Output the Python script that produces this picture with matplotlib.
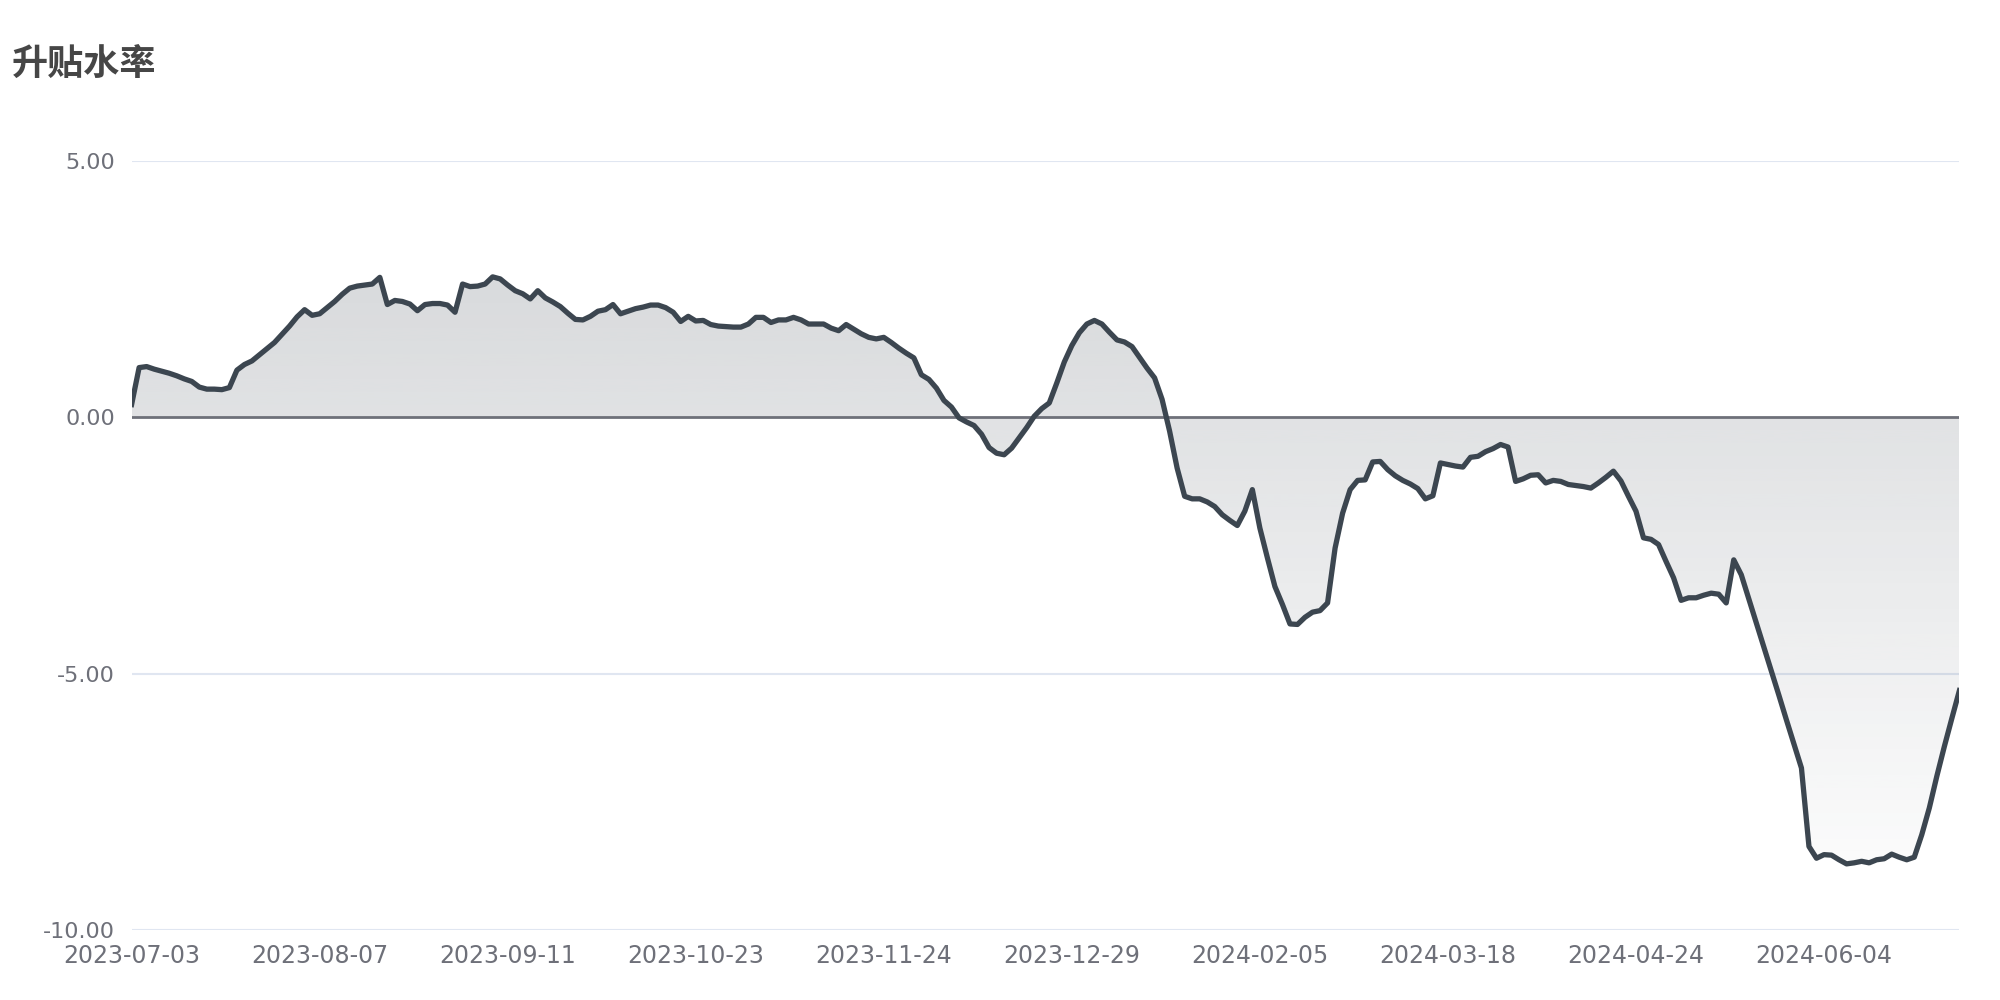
import matplotlib
matplotlib.use("Agg")
import matplotlib.pyplot as plt
import numpy as np

# 升贴水率, one value per trading day from 2023-07-03
values = [
    0.25, 0.97, 0.99, 0.94, 0.90, 0.86, 0.81, 0.75, 0.70, 0.59,
    0.55, 0.55, 0.54, 0.58, 0.92, 1.03, 1.10, 1.22, 1.34, 1.46,
    1.62, 1.78, 1.96, 2.10, 1.99, 2.02, 2.14, 2.26, 2.40, 2.52,
    2.56, 2.58, 2.60, 2.73, 2.20, 2.28, 2.26, 2.21, 2.08, 2.20,
    2.22, 2.22, 2.19, 2.05, 2.60, 2.55, 2.56, 2.60, 2.74, 2.70,
    2.58, 2.47, 2.41, 2.31, 2.47, 2.33, 2.25, 2.16, 2.03, 1.91,
    1.90, 1.97, 2.07, 2.10, 2.20, 2.02, 2.07, 2.12, 2.15, 2.19,
    2.19, 2.14, 2.05, 1.87, 1.97, 1.88, 1.89, 1.81, 1.78, 1.77,
    1.76, 1.76, 1.82, 1.95, 1.95, 1.85, 1.90, 1.90, 1.95, 1.90,
    1.82, 1.82, 1.82, 1.74, 1.69, 1.81, 1.72, 1.63, 1.56, 1.53,
    1.56, 1.46, 1.35, 1.25, 1.16, 0.83, 0.74, 0.57, 0.33, 0.20,
    -0.01, -0.09, -0.16, -0.33, -0.59, -0.70, -0.73, -0.60, -0.40, -0.20,
    0.02, 0.17, 0.28, 0.67, 1.08, 1.40, 1.65, 1.82, 1.89, 1.82,
    1.66, 1.51, 1.47, 1.38, 1.17, 0.96, 0.77, 0.35, -0.27, -0.99,
    -1.54, -1.59, -1.59, -1.65, -1.74, -1.90, -2.01, -2.11, -1.83, -1.41,
    -2.16, -2.74, -3.30, -3.65, -4.03, -4.04, -3.90, -3.80, -3.77, -3.62,
    -2.55, -1.87, -1.41, -1.23, -1.22, -0.87, -0.86, -1.02, -1.14, -1.23,
    -1.30, -1.39, -1.59, -1.53, -0.89, -0.92, -0.95, -0.97, -0.78, -0.76,
    -0.67, -0.61, -0.53, -0.58, -1.25, -1.20, -1.13, -1.12, -1.28, -1.23,
    -1.25, -1.31, -1.33, -1.35, -1.38, -1.28, -1.17, -1.05, -1.24, -1.54,
    -1.83, -2.35, -2.38, -2.48, -2.81, -3.13, -3.57, -3.52, -3.52, -3.47,
    -3.43, -3.45, -3.62, -2.78, -3.07, -3.54, -4.01, -4.48, -4.95, -5.42,
    -5.90, -6.37, -6.84, -8.37, -8.60, -8.53, -8.54, -8.63, -8.71, -8.69,
    -8.66, -8.69, -8.63, -8.61, -8.52, -8.58, -8.63, -8.58, -8.14, -7.62,
    -7.00, -6.42, -5.87, -5.33,
]

# category labels shown every 25 trading days
tick_labels = ["2023-07-03", "2023-08-07", "2023-09-11", "2023-10-23", "2023-11-24",
               "2023-12-29", "2024-02-05", "2024-03-18", "2024-04-24", "2024-06-04"]
y_ticks = [-10, -5, 0, 5]

title = "升贴水率"

line_color = "#3c4650"
grid_color = "#e0e6f1"
label_color = "#6e7079"

fig = plt.figure(figsize=(20, 10), dpi=100)
ax = fig.add_axes([0.0658, 0.070, 0.9139, 0.769])

x = np.arange(len(values))
y = np.array(values)

ax.set_xlim(0, len(values) - 1)
ax.set_ylim(-10, 5)

for v in y_ticks:
    if v != 0:
        ax.axhline(v, color=grid_color, lw=1.5, zorder=1)

# area fill with a vertical fade, clipped to the area under the line
poly = ax.fill_between(x, y, 0, facecolor="none", edgecolor="none")
grad = np.zeros((256, 1, 4))
grad[:, 0, :3] = np.array([61, 70, 81]) / 255.0
grad[:, 0, 3] = np.linspace(0.2, 0.02, 256)
im = ax.imshow(grad, extent=[0, len(values) - 1, y.min(), y.max()], aspect="auto",
               origin="upper", interpolation="bicubic", zorder=2)
im.set_clip_path(poly.get_paths()[0], transform=ax.transData)

ax.axhline(0, color=label_color, lw=2, zorder=3)
ax.plot(x, y, color=line_color, lw=3.8, solid_joinstyle="round", zorder=4)

for s in ax.spines.values():
    s.set_visible(False)

ax.set_yticks(y_ticks)
ax.set_yticklabels(["%.2f" % v for v in y_ticks])
ax.set_xticks(np.arange(0, len(values), 25)[:len(tick_labels)])
ax.set_xticklabels(tick_labels)
ax.tick_params(axis="x", length=0, labelsize=17, labelcolor=label_color, pad=10)
ax.tick_params(axis="y", length=0, labelsize=16, labelcolor=label_color, pad=12)

fig.text(0.006, 0.936, title, fontsize=26, fontweight="bold", color="#464646",
         family=["Noto Sans CJK SC", "DejaVu Sans"], va="center", ha="left")

fig.savefig("out.png", dpi=100, facecolor="white")
